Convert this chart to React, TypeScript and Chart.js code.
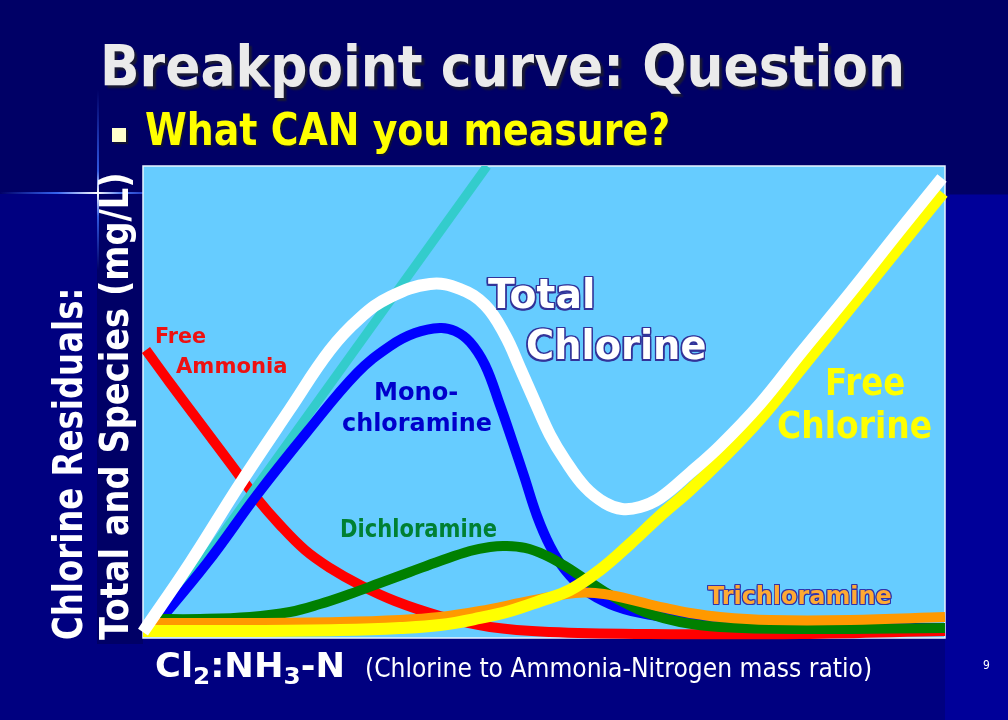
import React, { useEffect, useLayoutEffect, useRef, useState } from "react";
import { Chart, registerables } from "chart.js";

Chart.register(...registerables);

// ---------- DATA (x = Cl2:NH3-N mass ratio, y = residual mg/L, arbitrary 0-10 scale) ----------
const freeAmmoniaX = [0.037, 0.337, 0.711, 1.085, 1.397, 1.708, 2.02, 2.332, 2.706, 3.142, 3.703, 4.327, 5.075, 6.322, 8.192, 10];
const freeAmmoniaY = [6.102, 5.403, 4.555, 3.708, 3.008, 2.394, 1.864, 1.483, 1.123, 0.784, 0.466, 0.233, 0.127, 0.085, 0.085, 0.148];

const doseLineX = [0.1, 4.29];
const doseLineY = [0.1, 10];

const totalChlorineX = [0, 0.586, 1.209, 1.833, 2.332, 2.706, 3.08, 3.579, 3.953, 4.264, 4.514, 4.701, 4.888, 5.075, 5.262, 5.511, 5.761, 5.973, 6.197, 6.446, 6.82, 7.195, 7.693, 8.192, 8.815, 9.439, 9.963];
const totalChlorineY = [0.127, 1.589, 3.263, 4.852, 6.102, 6.78, 7.225, 7.5, 7.394, 7.055, 6.419, 5.72, 5.0, 4.301, 3.771, 3.199, 2.86, 2.733, 2.775, 2.966, 3.496, 4.068, 4.958, 6.017, 7.309, 8.644, 9.746];

const monochloramineX = [0.087, 0.798, 1.421, 2.045, 2.668, 3.08, 3.392, 3.703, 3.89, 4.077, 4.264, 4.451, 4.601, 4.751, 4.913, 5.075, 5.262, 5.511, 5.823, 6.197, 6.696, 7.693, 10];
const monochloramineY = [0.127, 1.589, 3.03, 4.364, 5.614, 6.186, 6.462, 6.568, 6.504, 6.271, 5.784, 4.936, 4.195, 3.432, 2.585, 1.949, 1.441, 1.017, 0.72, 0.53, 0.403, 0.254, 0.212];

const dichloramineX = [0.125, 0.711, 1.334, 1.833, 2.207, 2.581, 2.955, 3.329, 3.703, 4.077, 4.327, 4.514, 4.763, 5.012, 5.262, 5.511, 5.761, 6.01, 6.322, 6.696, 7.195, 8.192, 10];
const dichloramineY = [0.403, 0.403, 0.445, 0.551, 0.72, 0.932, 1.165, 1.398, 1.631, 1.843, 1.928, 1.949, 1.907, 1.758, 1.525, 1.25, 0.975, 0.742, 0.508, 0.339, 0.233, 0.191, 0.212];

const trichloramineX = [0.087, 1.334, 2.456, 3.204, 3.703, 4.202, 4.701, 5.075, 5.387, 5.636, 5.885, 6.197, 6.509, 6.82, 7.195, 7.818, 8.815, 10];
const trichloramineY = [0.318, 0.318, 0.339, 0.381, 0.445, 0.572, 0.742, 0.869, 0.953, 0.953, 0.89, 0.763, 0.636, 0.53, 0.445, 0.381, 0.381, 0.445];

const freeChlorineX = [0, 1.334, 2.456, 3.204, 3.703, 4.202, 4.576, 4.95, 5.324, 5.698, 6.072, 6.446, 6.82, 7.195, 7.693, 8.192, 8.815, 9.439, 9.975];
const freeChlorineY = [0.148, 0.148, 0.169, 0.212, 0.275, 0.424, 0.572, 0.784, 1.017, 1.441, 1.992, 2.585, 3.136, 3.75, 4.64, 5.678, 6.992, 8.305, 9.428];

const xRange = [0, 10];
const yRange = [0, 10];

// ---------- TEXT ----------
const titleText = "Breakpoint curve: Question";
const bulletText = "What CAN you measure?";
const yLabel1 = "Chlorine Residuals:";
const yLabel2 = "Total and Species (mg/L)";
const xLabelNote = "(Chlorine to Ammonia-Nitrogen mass ratio)";
const pageNumber = "9";

const FONT = '"DejaVu Sans", Verdana, sans-serif';
const CAP = 0.729;
const CAP_OFF = 0.117;

function outline(color: string, w: number) {
  const s: string[] = [];
  for (let dx = -w; dx <= w; dx += w) {
    for (let dy = -w; dy <= w; dy += w) {
      if (dx || dy) s.push(`${dx}px ${dy}px 0 ${color}`);
    }
  }
  return s.join(", ");
}

function Fit({ width, children, style }: { width: number; children: React.ReactNode; style?: React.CSSProperties }) {
  const ref = useRef<HTMLSpanElement>(null);
  const [k, setK] = useState(1);
  useLayoutEffect(() => {
    const measure = () => {
      const el = ref.current;
      if (!el) return;
      const w = el.offsetWidth;
      if (w > 0) setK(width / w);
    };
    measure();
    if ((document as any).fonts && (document as any).fonts.ready) {
      (document as any).fonts.ready.then(measure);
    }
  }, [width]);
  return (
    <span
      ref={ref}
      style={{
        display: "inline-block",
        whiteSpace: "nowrap",
        transform: `scaleX(${k})`,
        transformOrigin: "0 0",
        ...style,
      }}
    >
      {children}
    </span>
  );
}

type LabelProps = {
  children: React.ReactNode;
  left: number;
  capTop: number;
  capH: number;
  width: number;
  color: string;
  weight?: string | number;
  shadow?: string;
  rotate?: boolean;
};

function Label({ children, left, capTop, capH, width, color, weight = "bold", shadow, rotate }: LabelProps) {
  const size = capH / CAP;
  const base: React.CSSProperties = {
    position: "absolute",
    fontFamily: FONT,
    fontSize: size,
    lineHeight: 1,
    fontWeight: weight as any,
    color,
    textShadow: shadow,
    whiteSpace: "nowrap",
    zIndex: 3,
  };
  if (rotate) {
    return (
      <div
        style={{
          ...base,
          left: left - CAP_OFF * size,
          top: capTop,
          transform: "rotate(-90deg)",
          transformOrigin: "0 0",
        }}
      >
        <Fit width={width}>{children}</Fit>
      </div>
    );
  }
  return (
    <div style={{ ...base, left, top: capTop - CAP_OFF * size }}>
      <Fit width={width}>{children}</Fit>
    </div>
  );
}

function pts(xs: number[], ys: number[]) {
  return xs.map((x, i) => ({ x, y: ys[i] }));
}

const plotBg = {
  id: "plotBg",
  beforeDatasetsDraw(chart: any) {
    const { ctx, chartArea: a } = chart;
    ctx.save();
    ctx.fillStyle = "#66CCFF";
    ctx.fillRect(a.left, a.top, a.right - a.left, a.bottom - a.top);
    ctx.strokeStyle = "#E8F4FF";
    ctx.lineWidth = 1.5;
    ctx.strokeRect(a.left, a.top, a.right - a.left, a.bottom - a.top);
    ctx.restore();
  },
};

function BreakpointChart() {
  const canvasRef = useRef<HTMLCanvasElement>(null);
  useEffect(() => {
    const canvas = canvasRef.current;
    if (!canvas) return;
    const common = {
      pointRadius: 0,
      fill: false,
      tension: 0.4,
      clip: false as any,
      borderCapStyle: "butt" as const,
      borderJoinStyle: "round" as const,
    };
    const chart = new Chart(canvas, {
      type: "line",
      data: {
        datasets: [
          { ...common, label: "Total Chlorine", data: pts(totalChlorineX, totalChlorineY), borderColor: "#FFFFFF", borderWidth: 12, order: 0 },
          { ...common, label: "Free Chlorine", data: pts(freeChlorineX, freeChlorineY), borderColor: "#FFFF00", borderWidth: 12, order: 1 },
          { ...common, label: "Trichloramine", data: pts(trichloramineX, trichloramineY), borderColor: "#FF9900", borderWidth: 10, order: 2 },
          { ...common, label: "Dichloramine", data: pts(dichloramineX, dichloramineY), borderColor: "#008000", borderWidth: 10, order: 3 },
          { ...common, label: "Monochloramine", data: pts(monochloramineX, monochloramineY), borderColor: "#0000FF", borderWidth: 10, order: 4 },
          { ...common, label: "Chlorine dose", data: pts(doseLineX, doseLineY), borderColor: "#33CCCC", borderWidth: 9, tension: 0, order: 5, clip: 0 as any },
          { ...common, label: "Free Ammonia", data: pts(freeAmmoniaX, freeAmmoniaY), borderColor: "#FF0000", borderWidth: 10, order: 6 },
        ] as any,
      },
      options: {
        animation: false,
        responsive: false,
        maintainAspectRatio: false,
        events: [],
        layout: { padding: { left: 143, top: 166, right: 63, bottom: 82 } },
        scales: {
          x: { type: "linear", min: xRange[0], max: xRange[1], display: false },
          y: { type: "linear", min: yRange[0], max: yRange[1], display: false },
        },
        plugins: { legend: { display: false }, tooltip: { enabled: false }, title: { display: false } },
      },
      plugins: [plotBg],
    });
    return () => chart.destroy();
  }, []);
  return (
    <canvas
      ref={canvasRef}
      width={1008}
      height={720}
      style={{ position: "absolute", left: 0, top: 0, width: 1008, height: 720, zIndex: 2 }}
    />
  );
}

export default function App() {
  const titleShadow = "3px 3px 2px #1a1a33";
  return (
    <div
      style={{
        position: "fixed",
        left: 0,
        top: 0,
        width: 1008,
        height: 720,
        overflow: "hidden",
        background: "#000080",
      }}
    >
      <div style={{ position: "absolute", left: 0, top: 0, width: 1008, height: 194, background: "#000066", zIndex: 0 }} />
      <div style={{ position: "absolute", left: 97, top: 194, width: 46, height: 450, background: "#000066", zIndex: 0 }} />
      <div style={{ position: "absolute", left: 945, top: 195, width: 63, height: 525, background: "#000099", zIndex: 0 }} />
      <div
        style={{
          position: "absolute", left: 0, top: 192, width: 143, height: 2, zIndex: 1,
          background: "linear-gradient(to right, rgba(60,100,255,0) 0%, rgba(60,110,255,0.9) 40%, #ffffff 68%, rgba(80,130,255,0.9) 85%, rgba(60,100,255,0.6) 100%)",
        }}
      />
      <div
        style={{
          position: "absolute", left: 97, top: 90, width: 2, height: 180, zIndex: 1,
          background: "linear-gradient(to bottom, rgba(60,100,255,0) 0%, rgba(60,110,255,0.8) 45%, #ffffff 57%, rgba(60,110,255,0.8) 70%, rgba(60,100,255,0) 100%)",
        }}
      />

      <BreakpointChart />

      <Label left={100} capTop={46} capH={41} width={805} color="#EBEBEB" shadow={titleShadow}>
        {titleText}
      </Label>
      <div style={{ position: "absolute", left: 112, top: 128, width: 14, height: 14, background: "#FFFFCC", boxShadow: "2px 2px 1px #111133", zIndex: 3 }} />
      <Label left={145} capTop={113} capH={32} width={525} color="#FFFF00" shadow="2px 2px 1px #111133">
        {bulletText}
      </Label>

      <Label rotate left={53} capTop={640} capH={30} width={352} color="#FFFFFF">
        {yLabel1}
      </Label>
      <Label rotate left={100} capTop={640} capH={28} width={468} color="#FFFFFF">
        {yLabel2}
      </Label>
      <Label left={155} capTop={654} capH={24} width={190} color="#FFFFFF">
        <span>Cl</span>
        <span style={{ fontSize: "0.7em", verticalAlign: "-0.3em" }}>2</span>
        <span>:NH</span>
        <span style={{ fontSize: "0.7em", verticalAlign: "-0.3em" }}>3</span>
        <span>-N</span>
      </Label>
      <Label left={365} capTop={658} capH={19} width={507} color="#FFFFFF" weight="normal">
        {xLabelNote}
      </Label>
      <Label left={983} capTop={660} capH={9} width={7} color="#FFFFFF" weight="normal">
        {pageNumber}
      </Label>

      <Label left={155} capTop={328} capH={16} width={51} color="#EE1111">Free</Label>
      <Label left={176} capTop={358} capH={15} width={111} color="#EE1111">Ammonia</Label>
      <Label left={374} capTop={383} capH={18} width={84} color="#0000CC">Mono-</Label>
      <Label left={342} capTop={414} capH={18} width={150} color="#0000CC">chloramine</Label>
      <Label left={340} capTop={520} capH={18} width={157} color="#008033">Dichloramine</Label>
      <Label left={708} capTop={587} capH={18} width={184} color="#FFAA33" shadow={outline("#3333AA", 1)}>Trichloramine</Label>
      <Label left={488} capTop={279} capH={30} width={107} color="#FFFFFF" shadow={outline("#333399", 1.5)}>Total</Label>
      <Label left={526} capTop={330} capH={30} width={180} color="#FFFFFF" shadow={outline("#333399", 1.5)}>Chlorine</Label>
      <Label left={825} capTop={368} capH={27} width={80} color="#FFFF00">Free</Label>
      <Label left={777} capTop={411} capH={27} width={155} color="#FFFF00">Chlorine</Label>
    </div>
  );
}
